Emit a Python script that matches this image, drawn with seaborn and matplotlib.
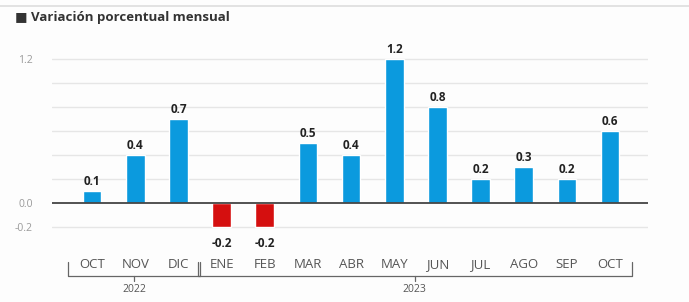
import numpy as np
import pandas as pd
import matplotlib
matplotlib.use("Agg")
import matplotlib.pyplot as plt
import matplotlib.transforms as mtransforms
import seaborn as sns

months = ["OCT", "NOV", "DIC", "ENE", "FEB", "MAR", "ABR", "MAY", "JUN", "JUL", "AGO", "SEP", "OCT"]
values = [0.1, 0.4, 0.7, -0.2, -0.2, 0.5, 0.4, 1.2, 0.8, 0.2, 0.3, 0.2, 0.6]
years = ["2022", "2023"]
year_spans = [(0, 2), (3, 12)]

BLUE = "#0b9ade"
RED = "#d50f0f"

sns.set_theme(style="white")
plt.rcParams["font.family"] = ["Open Sans", "DejaVu Sans"]

df = pd.DataFrame({"pos": np.arange(len(months)), "mes": months, "valor": values})
df["signo"] = np.where(df["valor"] < 0, "neg", "pos")

fig = plt.figure(figsize=(6.89, 3.02), dpi=100)
fig.patch.set_facecolor("#fdfdfd")
ax = fig.add_axes([52 / 689, 63 / 302, 596 / 689, 192 / 302])
ax.set_facecolor("#fdfdfd")

# light gridlines every 0.2
for g in np.arange(-0.2, 1.21, 0.2):
    if abs(g) < 1e-9:
        continue
    ax.axhline(g, color="#e6e6e6", linewidth=1.0, zorder=0)

sns.barplot(data=df, x="pos", y="valor", hue="signo", palette={"pos": BLUE, "neg": RED},
            width=0.43, dodge=False, legend=False, ax=ax, native_scale=True,
            saturation=1, zorder=2)
ax.axhline(0, color="#444444", linewidth=1.3, zorder=3)

ax.set_xlim(-0.93, 12.88)
ax.set_ylim(-0.3, 1.3)
ax.set_yticks([-0.2, 0.0, 1.2])
ax.set_yticklabels(["-0.2", "0.0", "1.2"], color="#9a9a9a", fontsize=7.5)
ax.tick_params(axis="y", length=0, pad=14)
ax.set_xticks([])
ax.set_xlabel("")
ax.set_ylabel("")
for s in ax.spines.values():
    s.set_visible(False)

# value labels
for x, v in zip(df["pos"], df["valor"]):
    if v >= 0:
        ax.text(x, v + 0.025, f"{v:.1f}", ha="center", va="bottom", fontsize=8.5,
                fontweight="bold", color="#222222")
    else:
        ax.text(x, v - 0.08, f"{v:.1f}", ha="center", va="top", fontsize=8.5,
                fontweight="bold", color="#222222")

# month labels
trans = mtransforms.blended_transform_factory(ax.transData, ax.transAxes)
for x, m in zip(df["pos"], df["mes"]):
    ax.text(x, -0.135, m, transform=trans, ha="center", va="center", fontsize=9.5,
            color="#555555", clip_on=False)

# year brackets
for (a, b), yr in zip(year_spans, years):
    x0, x1 = a - 0.55, b + 0.5
    yb = -0.195
    ax.plot([x0, x0, x1, x1], [-0.12, yb, yb, -0.12], transform=trans, color="#666666",
            linewidth=0.9, clip_on=False)
    xm = (x0 + x1) / 2
    ax.plot([xm, xm], [yb, yb - 0.025], transform=trans, color="#666666", linewidth=0.9,
            clip_on=False)
    ax.text(xm, yb - 0.04, yr, transform=trans, ha="center", va="top", fontsize=7.5,
            color="#555555", clip_on=False)

# header
fig.add_artist(plt.Line2D([0, 1], [1 - 6 / 302, 1 - 6 / 302], color="#dddddd", linewidth=1.2))
fig.text(15 / 689, 1 - 18 / 302, "\u25A0 Variación porcentual mensual", ha="left", va="center",
         fontsize=9.5, fontweight="bold", color="#333333")

fig.savefig("out.png", dpi=100, facecolor=fig.get_facecolor())
